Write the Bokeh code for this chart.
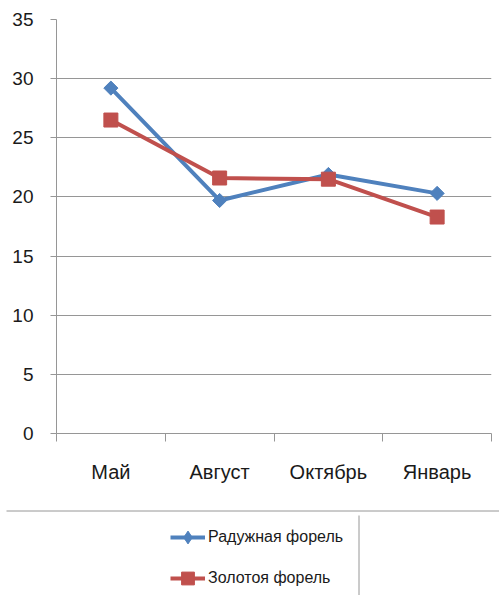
import numpy as np
from bokeh.plotting import figure
from bokeh.models import Range1d, FixedTicker, LinearAxis, Legend, LegendItem, Grid
from bokeh.layouts import column
from bokeh.embed import file_html
from bokeh.resources import INLINE

# ---- data ----
categories = ["Май", "Август", "Октябрь", "Январь"]
rainbow_trout = [29.2, 19.7, 21.9, 20.3]
golden_trout = [26.5, 21.6, 21.5, 18.3]
series_names = ["Радужная форель", "Золотоя форель"]
y_ticks = [0, 5, 10, 15, 20, 25, 30, 35]

# ---- styles ----
BLUE = "#4F81BD"
RED = "#C0504D"
FONT = "Liberation Sans"
TEXT = "#1a1a1a"
GRID = "#969696"

n = len(categories)
xc = [i + 0.5 for i in range(n)]
bounds = list(range(n + 1))

p = figure(width=499, height=500, x_range=Range1d(0, n), y_range=Range1d(0, y_ticks[-1]),
           output_backend="svg", toolbar_location=None,
           x_axis_type=None, y_axis_type=None,
           min_border_left=56, min_border_right=8, min_border_top=19, min_border_bottom=67)
p.outline_line_color = None
p.frame_align = False

yaxis = LinearAxis(ticker=FixedTicker(ticks=y_ticks, minor_ticks=[]),
                   axis_line_color=GRID, major_tick_line_color=GRID,
                   major_tick_out=6, major_tick_in=0, minor_tick_line_color=None,
                   major_label_standoff=17, major_label_text_font=FONT,
                   major_label_text_font_size="19px", major_label_text_color=TEXT)
p.add_layout(yaxis, "left")
p.add_layout(Grid(dimension=1, ticker=yaxis.ticker, grid_line_color=GRID))

xaxis = LinearAxis(ticker=FixedTicker(ticks=xc, minor_ticks=bounds),
                   major_label_overrides={x: c for x, c in zip(xc, categories)},
                   axis_line_color=GRID, major_tick_line_color=None,
                   major_tick_out=0, major_tick_in=0,
                   minor_tick_line_color=GRID, minor_tick_out=8, minor_tick_in=0,
                   major_label_standoff=19, major_label_text_font=FONT,
                   major_label_text_font_size="20px", major_label_text_color=TEXT)
p.add_layout(xaxis, "below")

p.line(xc, rainbow_trout, line_color=BLUE, line_width=4)
p.scatter(xc, rainbow_trout, marker="square", angle=np.pi / 4, size=10,
          fill_color=BLUE, line_color=BLUE)
p.line(xc, golden_trout, line_color=RED, line_width=4)
p.scatter(xc, golden_trout, marker="square", size=14, fill_color=RED, line_color=RED)

# ---- legend area ----
p2 = figure(width=499, height=95, x_range=Range1d(0, 499), y_range=Range1d(95, 0),
            output_backend="svg", toolbar_location=None,
            x_axis_type=None, y_axis_type=None,
            min_border_left=0, min_border_right=0, min_border_top=0, min_border_bottom=0)
p2.outline_line_color = None
p2.frame_align = False
p2.segment(x0=[6, 358.5], y0=[10.5, 15], x1=[499, 358.5], y1=[10.5, 95],
           line_color=GRID, line_width=1)

# legend-only swatches (no data drawn)
l1 = p2.line([np.nan], [np.nan], line_color=BLUE, line_width=4)
m1 = p2.scatter([np.nan], [np.nan], marker="diamond", size=10, fill_color=BLUE, line_color=BLUE)
l2 = p2.line([np.nan], [np.nan], line_color=RED, line_width=4)
m2 = p2.scatter([np.nan], [np.nan], marker="square", size=10, fill_color=RED, line_color=RED)

legend = Legend(items=[LegendItem(label=series_names[0], renderers=[l1, m1]),
                       LegendItem(label=series_names[1], renderers=[l2, m2])],
                location=(170, 1), orientation="vertical",
                glyph_width=35, glyph_height=32, label_height=32, spacing=9,
                label_standoff=3, padding=0, margin=0,
                border_line_color=None, background_fill_alpha=0,
                label_text_font=FONT, label_text_font_size="16px", label_text_color=TEXT)
p2.add_layout(legend, "center")

layout = column(p, p2, spacing=0)
open("out.html", "w").write(file_html(layout, INLINE))
